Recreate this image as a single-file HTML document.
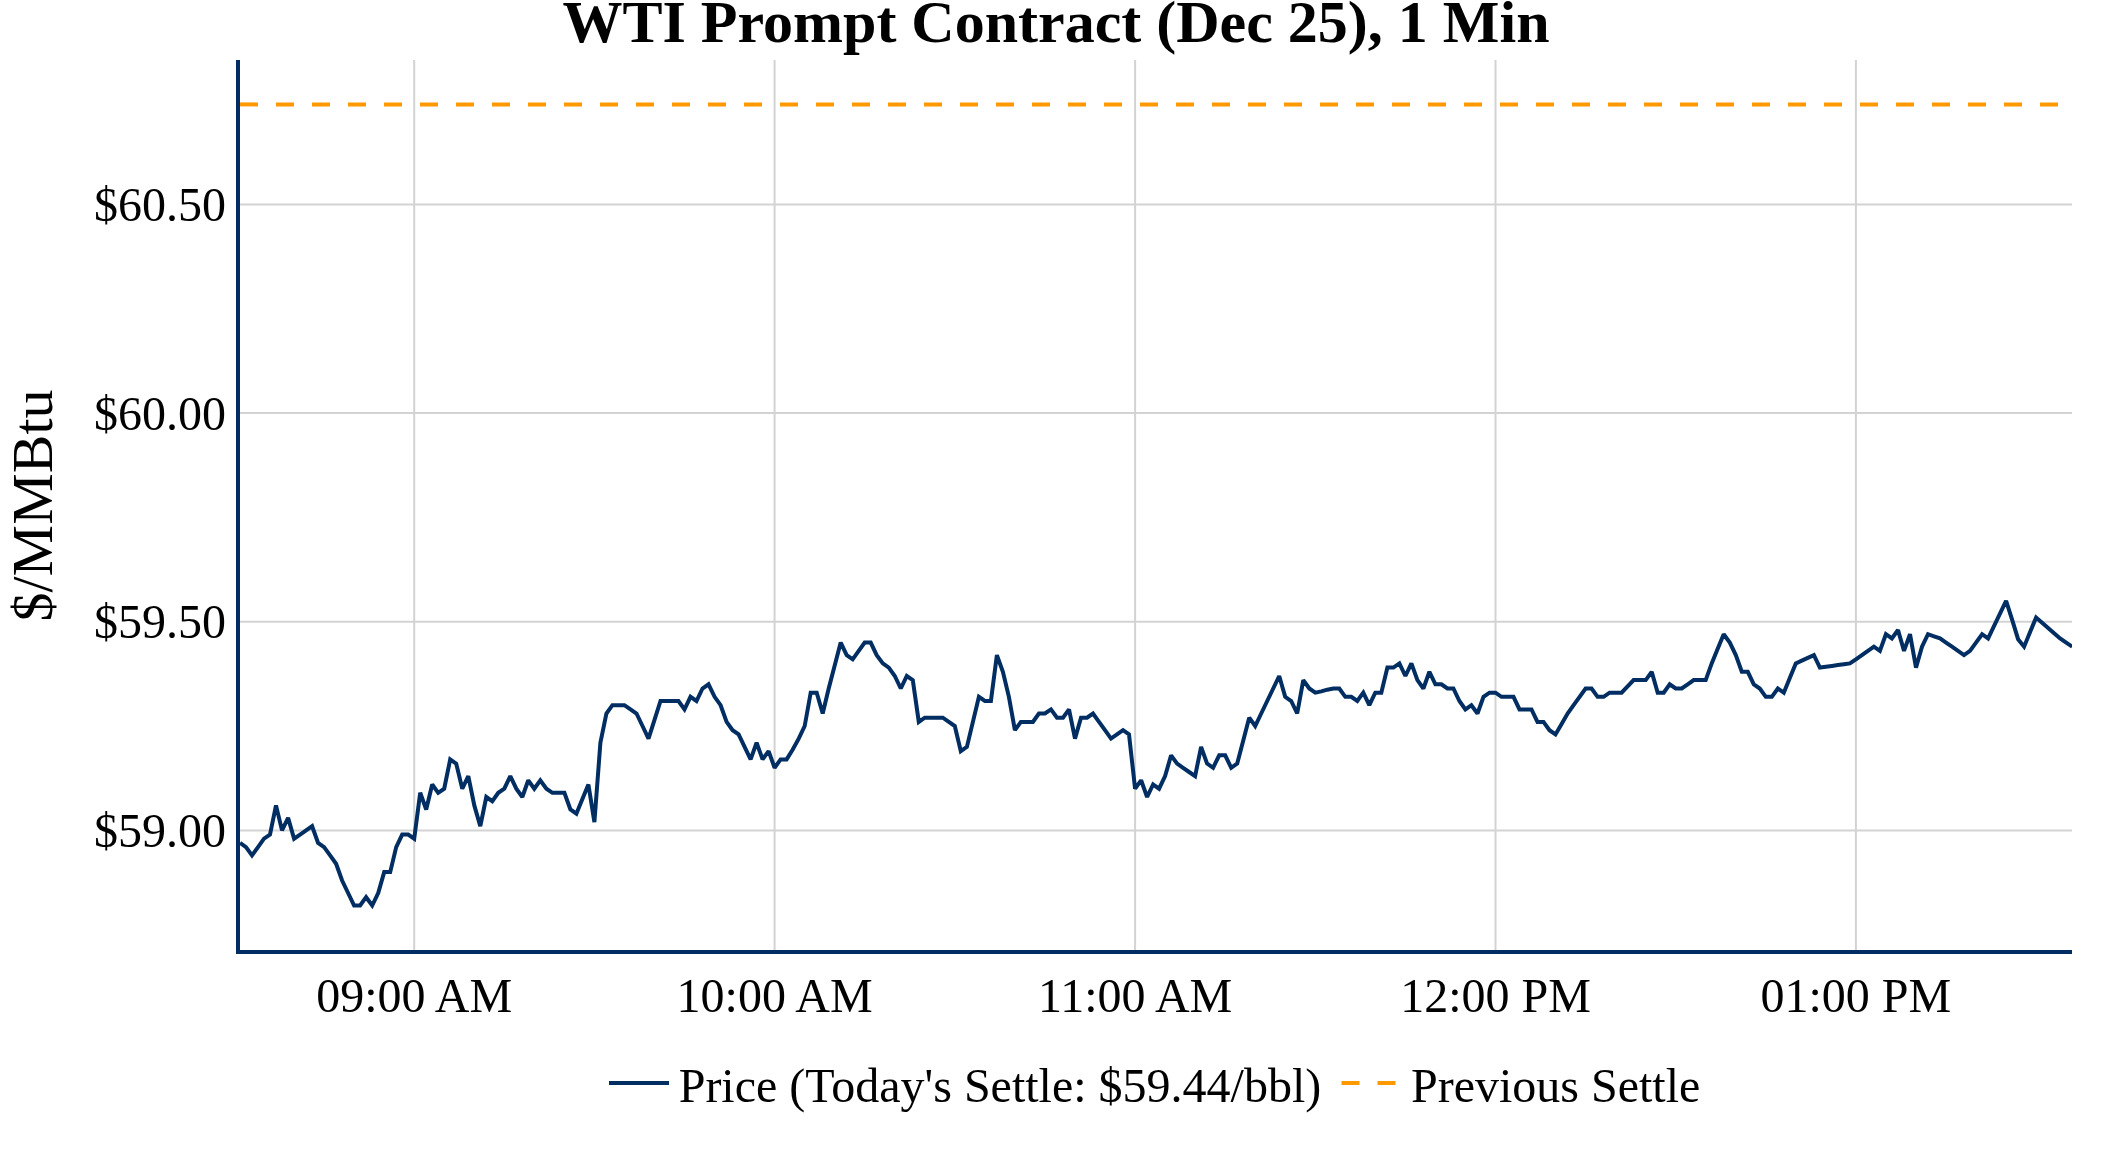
<!DOCTYPE html>
<html><head><meta charset="utf-8"><title>WTI Prompt Contract</title>
<style>
html,body{margin:0;padding:0;background:#fff;}
body{width:2112px;height:1152px;overflow:hidden;}
svg{display:block;will-change:transform;}
text{font-family:"Liberation Serif",serif;fill:#000;}
</style></head><body>
<svg xmlns="http://www.w3.org/2000/svg" width="2112" height="1152" viewBox="0 0 2112 1152">
<rect x="0" y="0" width="2112" height="1152" fill="#fff"/>
<line x1="414.2" y1="60" x2="414.2" y2="950" stroke="#D3D3D3" stroke-width="2"/>
<line x1="774.6" y1="60" x2="774.6" y2="950" stroke="#D3D3D3" stroke-width="2"/>
<line x1="1135.1" y1="60" x2="1135.1" y2="950" stroke="#D3D3D3" stroke-width="2"/>
<line x1="1495.5" y1="60" x2="1495.5" y2="950" stroke="#D3D3D3" stroke-width="2"/>
<line x1="1855.9" y1="60" x2="1855.9" y2="950" stroke="#D3D3D3" stroke-width="2"/>
<line x1="240" y1="204.5" x2="2072" y2="204.5" stroke="#D3D3D3" stroke-width="2"/>
<line x1="240" y1="413.1" x2="2072" y2="413.1" stroke="#D3D3D3" stroke-width="2"/>
<line x1="240" y1="621.7" x2="2072" y2="621.7" stroke="#D3D3D3" stroke-width="2"/>
<line x1="240" y1="830.4" x2="2072" y2="830.4" stroke="#D3D3D3" stroke-width="2"/>
<line x1="240" y1="104.4" x2="2072" y2="104.4" stroke="#FF9900" stroke-width="4" stroke-dasharray="18,18"/>
<defs><clipPath id="pc"><rect x="240" y="60" width="1832" height="890"/></clipPath></defs>
<path clip-path="url(#pc)" d="M240.0,842.9 L246.0,847.1 L252.0,855.4 L258.0,847.1 L264.0,838.7 L270.0,834.6 L276.0,805.4 L282.0,830.4 L288.1,817.9 L294.1,838.7 L300.1,834.6 L306.1,830.4 L312.1,826.2 L318.1,842.9 L324.1,847.1 L330.1,855.4 L336.1,863.8 L342.1,880.5 L348.1,893.0 L354.1,905.5 L360.1,905.5 L366.1,897.2 L372.2,905.5 L378.2,893.0 L384.2,872.1 L390.2,872.1 L396.2,847.1 L402.2,834.6 L408.2,834.6 L414.2,838.7 L420.2,792.8 L426.2,809.5 L432.2,784.5 L438.2,792.8 L444.2,788.7 L450.2,759.4 L456.2,763.6 L462.3,788.7 L468.3,776.1 L474.3,805.4 L480.3,826.2 L486.3,797.0 L492.3,801.2 L498.3,792.8 L504.3,788.7 L510.3,776.1 L516.3,788.7 L522.3,797.0 L528.3,780.3 L534.3,788.7 L540.3,780.3 L546.4,788.7 L552.4,792.8 L558.4,792.8 L564.4,792.8 L570.4,809.5 L576.4,813.7 L582.4,799.1 L588.4,784.5 L594.4,822.1 L600.4,742.7 L606.4,713.5 L612.4,705.2 L618.4,705.2 L624.4,705.2 L630.5,709.4 L636.5,713.5 L642.5,726.0 L648.5,738.6 L654.5,719.8 L660.5,701.0 L666.5,701.0 L672.5,701.0 L678.5,701.0 L684.5,709.4 L690.5,696.8 L696.5,701.0 L702.5,688.5 L708.5,684.3 L714.6,696.8 L720.6,705.2 L726.6,721.9 L732.6,730.2 L738.6,734.4 L744.6,746.9 L750.6,759.4 L756.6,742.7 L762.6,759.4 L768.6,751.1 L774.6,767.8 L780.6,759.4 L786.6,759.4 L792.6,749.8 L798.7,738.6 L804.7,726.0 L810.7,692.7 L816.7,692.7 L822.7,713.5 L828.7,688.5 L834.7,665.5 L840.7,642.6 L846.7,655.1 L852.7,659.3 L858.7,650.9 L864.7,642.6 L870.7,642.6 L876.7,655.1 L882.8,663.4 L888.8,667.6 L894.8,676.0 L900.8,688.5 L906.8,676.0 L912.8,680.1 L918.8,721.9 L924.8,717.7 L930.8,717.7 L936.8,717.7 L942.8,717.7 L948.8,721.9 L954.8,726.0 L960.8,751.1 L966.9,746.9 L972.9,721.9 L978.9,696.8 L984.9,701.0 L990.9,701.0 L996.9,655.1 L1002.9,671.8 L1008.9,696.8 L1014.9,730.2 L1020.9,721.9 L1026.9,721.9 L1032.9,721.9 L1038.9,713.5 L1044.9,713.5 L1051.0,709.4 L1057.0,717.7 L1063.0,717.7 L1069.0,709.4 L1075.0,738.6 L1081.0,717.7 L1087.0,717.7 L1093.0,713.5 L1099.0,721.9 L1105.0,730.2 L1111.0,738.6 L1117.0,734.4 L1123.0,730.2 L1129.0,734.4 L1135.1,788.7 L1141.1,780.3 L1147.1,797.0 L1153.1,784.5 L1159.1,788.7 L1165.1,776.1 L1171.1,755.3 L1177.1,763.6 L1183.1,767.8 L1189.1,772.0 L1195.1,776.1 L1201.1,746.9 L1207.1,763.6 L1213.1,767.8 L1219.2,755.3 L1225.2,755.3 L1231.2,767.8 L1237.2,763.6 L1243.2,740.7 L1249.2,717.7 L1255.2,726.0 L1261.2,713.5 L1267.2,701.0 L1273.2,688.5 L1279.2,676.0 L1285.2,696.8 L1291.2,701.0 L1297.2,713.5 L1303.3,680.1 L1309.3,688.5 L1315.3,692.7 L1321.3,691.4 L1327.3,689.7 L1333.3,688.5 L1339.3,688.5 L1345.3,696.8 L1351.3,696.8 L1357.3,701.0 L1363.3,692.7 L1369.3,705.2 L1375.3,692.7 L1381.3,692.7 L1387.4,667.6 L1393.4,667.6 L1399.4,663.4 L1405.4,676.0 L1411.4,663.4 L1417.4,680.1 L1423.4,688.5 L1429.4,671.8 L1435.4,684.3 L1441.4,684.3 L1447.4,688.5 L1453.4,688.5 L1459.4,701.0 L1465.4,709.4 L1471.4,705.2 L1477.5,713.5 L1483.5,696.8 L1489.5,692.7 L1495.5,692.7 L1501.5,696.8 L1507.5,696.8 L1513.5,696.8 L1519.5,709.4 L1525.5,709.4 L1531.5,709.4 L1537.5,721.9 L1543.5,721.9 L1549.5,730.2 L1555.5,734.4 L1561.6,724.0 L1567.6,713.5 L1573.6,705.2 L1579.6,696.8 L1585.6,688.5 L1591.6,688.5 L1597.6,696.8 L1603.6,696.8 L1609.6,692.7 L1615.6,692.7 L1621.6,692.7 L1627.6,686.4 L1633.6,680.1 L1639.6,680.1 L1645.7,680.1 L1651.7,671.8 L1657.7,692.7 L1663.7,692.7 L1669.7,684.3 L1675.7,688.5 L1681.7,688.5 L1687.7,684.3 L1693.7,680.1 L1699.7,680.1 L1705.7,680.1 L1711.7,663.4 L1717.7,648.8 L1723.7,634.2 L1729.8,642.6 L1735.8,655.1 L1741.8,671.8 L1747.8,671.8 L1753.8,684.3 L1759.8,688.5 L1765.8,696.8 L1771.8,696.8 L1777.8,688.5 L1783.8,692.7 L1789.8,678.0 L1795.8,663.4 L1801.8,660.6 L1807.8,657.9 L1813.9,655.1 L1819.9,667.6 L1825.9,666.8 L1831.9,665.9 L1837.9,665.1 L1843.9,664.3 L1849.9,663.4 L1855.9,659.3 L1861.9,655.1 L1867.9,650.9 L1873.9,646.7 L1879.9,650.9 L1885.9,634.2 L1891.9,638.4 L1898.0,630.0 L1904.0,650.9 L1910.0,634.2 L1916.0,667.6 L1922.0,646.7 L1928.0,634.2 L1934.0,636.3 L1940.0,638.4 L1946.0,642.6 L1952.0,646.7 L1958.0,650.9 L1964.0,655.1 L1970.0,650.9 L1976.0,642.6 L1982.1,634.2 L1988.1,638.4 L1994.1,625.9 L2000.1,613.4 L2006.1,600.8 L2012.1,619.6 L2018.1,639.2 L2024.1,646.7 L2030.1,632.1 L2036.1,617.5 L2042.1,622.7 L2048.1,628.0 L2054.1,633.2 L2060.1,638.4 L2066.2,642.6 L2072.2,646.7" fill="none" stroke="#002D62" stroke-width="4" stroke-linejoin="miter" stroke-miterlimit="2"/>
<line x1="238" y1="60" x2="238" y2="954" stroke="#002D62" stroke-width="4"/>
<line x1="236" y1="952" x2="2072" y2="952" stroke="#002D62" stroke-width="4"/>
<text x="226" y="221.0" font-size="48" text-anchor="end">$60.50</text>
<text x="226" y="429.6" font-size="48" text-anchor="end">$60.00</text>
<text x="226" y="638.2" font-size="48" text-anchor="end">$59.50</text>
<text x="226" y="846.9" font-size="48" text-anchor="end">$59.00</text>
<text x="414.2" y="1012" font-size="48" text-anchor="middle">09:00 AM</text>
<text x="774.6" y="1012" font-size="48" text-anchor="middle">10:00 AM</text>
<text x="1135.1" y="1012" font-size="48" text-anchor="middle">11:00 AM</text>
<text x="1495.5" y="1012" font-size="48" text-anchor="middle">12:00 PM</text>
<text x="1855.9" y="1012" font-size="48" text-anchor="middle">01:00 PM</text>
<text x="1056" y="42" font-size="60" font-weight="bold" text-anchor="middle">WTI Prompt Contract (Dec 25), 1 Min</text>
<text transform="translate(51.5,505.5) rotate(-90)" font-size="58" text-anchor="middle">$/MMBtu</text>
<line x1="609" y1="1083" x2="669" y2="1083" stroke="#002D62" stroke-width="4"/>
<text x="678.7" y="1101.5" font-size="48">Price (Today's Settle: $59.44/bbl)</text>
<line x1="1341.5" y1="1083" x2="1401.5" y2="1083" stroke="#FF9900" stroke-width="4" stroke-dasharray="18,18"/>
<text x="1411" y="1101.5" font-size="48">Previous Settle</text>
</svg></body></html>
